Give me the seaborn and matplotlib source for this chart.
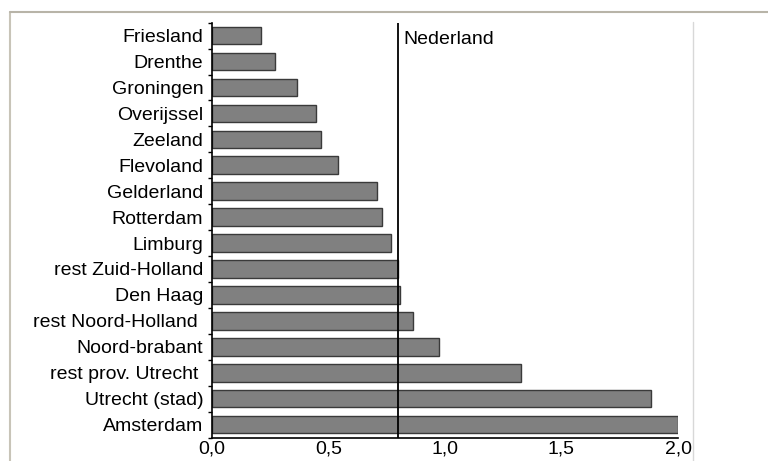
import matplotlib
matplotlib.use("Agg")
import matplotlib.pyplot as plt
from matplotlib.patches import Rectangle
from matplotlib.lines import Line2D
import seaborn as sns
import numpy as np
import pandas as pd

categories = ["Friesland", "Drenthe", "Groningen", "Overijssel", "Zeeland",
              "Flevoland", "Gelderland", "Rotterdam", "Limburg",
              "rest Zuid-Holland", "Den Haag", "rest Noord-Holland ",
              "Noord-brabant", "rest prov. Utrecht ", "Utrecht (stad)",
              "Amsterdam"]
values = [0.21, 0.27, 0.366, 0.449, 0.469, 0.54, 0.708, 0.732, 0.769,
          0.80, 0.809, 0.862, 0.976, 1.327, 1.883, 2.0]
nederland_value = 0.80
nederland_label = "Nederland"
xtick_values = [0.0, 0.5, 1.0, 1.5, 2.0]
xtick_labels = ["0,0", "0,5", "1,0", "1,5", "2,0"]

sns.set_theme(style="white")
plt.rcParams['font.family'] = ['Liberation Sans', 'DejaVu Sans']
plt.rcParams['text.color'] = 'black'
plt.rcParams['xtick.color'] = 'black'
plt.rcParams['ytick.color'] = 'black'
plt.rcParams['xtick.labelcolor'] = 'black'
plt.rcParams['ytick.labelcolor'] = 'black'

W, H = 768, 461
fig = plt.figure(figsize=(W / 100, H / 100), dpi=100)
fig.patch.set_facecolor("white")

left, right, top, bottom = 211.7, 678.0, 22.7, 437.5
ax = fig.add_axes([left / W, 1 - bottom / H, (right - left) / W, (bottom - top) / H])
ax.set_facecolor("white")

df = pd.DataFrame({"region": categories, "value": values})
sns.barplot(data=df, x="value", y="region", orient="h", color="#808080",
            saturation=1, edgecolor="#3a3a3a", linewidth=1.0, width=0.68, ax=ax)

ax.set_xlim(0, 2.0)
ax.set_ylim(len(categories) - 0.5, -0.5)
ax.set_xlabel("")
ax.set_ylabel("")

ax.axvline(nederland_value, color="black", lw=1.3, zorder=5)
ax.annotate(nederland_label, xy=(nederland_value, -0.5), xytext=(4, -6),
            textcoords="offset points", ha="left", va="top", fontsize=14,
            color="black")

for s in ["top", "right"]:
    ax.spines[s].set_visible(False)
for s in ["left", "bottom"]:
    ax.spines[s].set_color("black")
    ax.spines[s].set_linewidth(1.2)

ax.set_xticks(xtick_values)
ax.set_xticklabels(xtick_labels, fontsize=14, color="black")
ax.tick_params(axis="x", direction="out", length=3, width=1, color="black", pad=-1)
ax.tick_params(axis="y", which="major", length=0, pad=6, labelsize=14,
               labelcolor="black")
ax.set_yticks(np.arange(-0.5, len(categories), 1.0), minor=True)
ax.tick_params(axis="y", which="minor", direction="out", length=3, width=1,
               color="black", left=True)

# outer frame and right boundary line
fig.add_artist(Line2D([10 / W, 10 / W], [0, 1 - 12 / H], transform=fig.transFigure,
                      color="#c8c4b8", lw=1.5))
fig.add_artist(Line2D([10 / W, 1], [1 - 12 / H, 1 - 12 / H], transform=fig.transFigure,
                      color="#b8b4a8", lw=1.5))
fig.add_artist(Rectangle((694 / W, 0), (W - 694) / W, 1 - 20 / H,
                         transform=fig.transFigure, facecolor="white",
                         edgecolor="none", zorder=10))
fig.add_artist(Line2D([693 / W, 693 / W], [0, 1 - 22 / H], transform=fig.transFigure,
                      color="#d8d8d8", lw=1, zorder=11))

fig.savefig("out.png", dpi=100)
